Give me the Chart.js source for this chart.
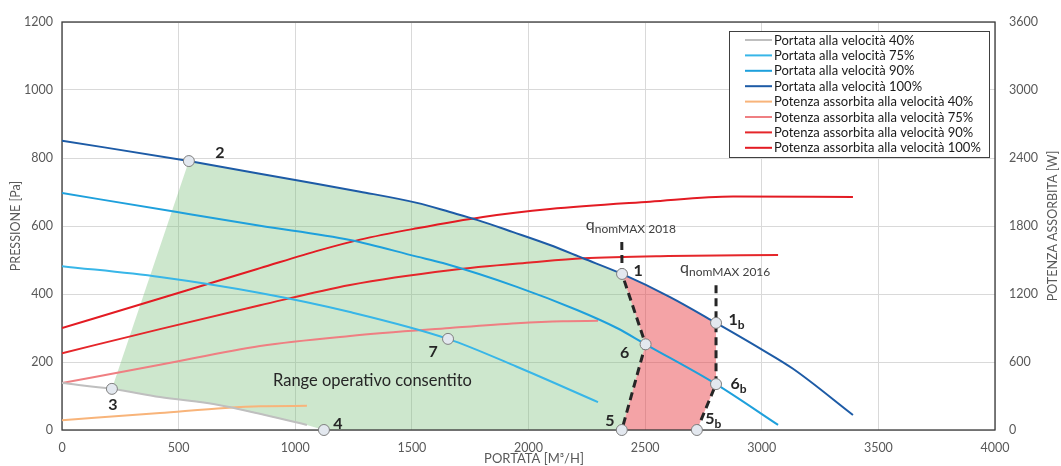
<!DOCTYPE html>
<html lang="it">
<head>
<meta charset="UTF-8">
<title>Curve caratteristiche ventilatore</title>
<script src="https://cdn.jsdelivr.net/npm/chart.js@4.4.3/dist/chart.umd.min.js"></script>
<style>
  body { margin: 0; background: #fff; }
  #wrap { width: 1061px; height: 466px; }
</style>
</head>
<body>
<div id="wrap"><canvas id="chart" width="1061" height="466"></canvas></div>
<script>
// Portata [m3/h] / pressione [Pa] alle varie velocità
const flow100X = [0, 544, 1000, 1278, 1522, 1663, 1779, 1934, 2092, 2234, 2401, 2607, 2804, 2992, 3134, 3391];
const flow100Y = [851, 791, 735, 701, 668, 641, 618, 582, 544, 505, 459, 391, 315, 240, 180, 44];
const flow90X = [0, 493, 849, 1235, 1522, 1633, 1950, 2208, 2379, 2502, 2804, 3070];
const flow90Y = [697, 641, 601, 559, 510, 491, 421, 353, 300, 252, 135, 15];
const flow75X = [0, 420, 849, 1235, 1655, 1950, 2298];
const flow75Y = [482, 450, 403, 347, 268, 186, 82];
const flow40X = [0, 214, 420, 677, 1050];
const flow40Y = [138, 121, 97, 73, 15];

// Potenza assorbita [W] (asse destro)
const pow100X = [0, 420, 635, 849, 1106, 1278, 1522, 1805, 2092, 2521, 2877, 3391];
const pow100Y = [900, 1160, 1295, 1428, 1587, 1680, 1780, 1880, 1950, 2015, 2060, 2055];
const pow90X = [0, 420, 849, 1235, 1663, 2019, 2234, 2600, 3070];
const pow90Y = [678, 890, 1100, 1280, 1410, 1480, 1515, 1536, 1545];
const pow75X = [0, 420, 849, 1235, 1663, 1950, 2148, 2298];
const pow75Y = [414, 575, 742, 830, 900, 942, 960, 963];
const pow40X = [0, 420, 700, 849, 1050];
const pow40Y = [87, 150, 195, 210, 213];

// Aree di funzionamento
const greenX = [214, 544, 1000, 1278, 1522, 1663, 1779, 1934, 2092, 2234, 2401, 2502, 2400, 1123, 1050, 677, 420];
const greenY = [121, 791, 735, 701, 668, 641, 618, 582, 544, 505, 459, 252, 0, 0, 15, 73, 97];
const redX = [2401, 2607, 2804, 2804, 2722, 2400, 2502];
const redY = [459, 391, 315, 135, 0, 0, 252];

// Limiti qnomMAX
const q2018X = [2400, 2401, 2502, 2400];
const q2018Y = [553, 459, 252, 0];
const q2016X = [2804, 2804, 2804, 2722];
const q2016Y = [426, 315, 135, 0];

// Punti caratteristici
const pointNames = ['1', '2', '3', '4', '5', '6', '7', '1b', '6b', '5b'];
const pointX = [2401, 544, 214, 1123, 2400, 2502, 1655, 2804, 2804, 2722];
const pointY = [459, 791, 121, 0, 0, 252, 268, 315, 135, 0];

const xTicks = [0, 500, 1000, 1500, 2000, 2500, 3000, 3500, 4000];
const yTicks = [0, 200, 400, 600, 800, 1000, 1200];
const y1Ticks = [0, 600, 1200, 1800, 2400, 3000, 3600];

const seriesLabels = [
  'Portata alla velocità 40%', 'Portata alla velocità 75%', 'Portata alla velocità 90%', 'Portata alla velocità 100%',
  'Potenza assorbita alla velocità 40%', 'Potenza assorbita alla velocità 75%', 'Potenza assorbita alla velocità 90%', 'Potenza assorbita alla velocità 100%'
];
const seriesColors = ['#BFBFBF', '#38B6E8', '#1EA0DC', '#1D5BA6', '#F8B47A', '#EF7F82', '#E5262A', '#E31B23'];

// offset etichette rispetto al punto (px)
const labelOffsets = {
  '1': [16, -3], '2': [31, -8], '3': [1, 16], '4': [14, -6], '5': [-12, -9],
  '6': [-21, 9], '7': [-15, 13], '1b': [17, -3], '6b': [19, 0], '5b': [13, -11]
};

const zip = (xs, ys) => xs.map((v, i) => ({ x: v, y: ys[i] }));

const curveData = [
  [flow40X, flow40Y, 'y'], [flow75X, flow75Y, 'y'], [flow90X, flow90Y, 'y'], [flow100X, flow100Y, 'y'],
  [pow40X, pow40Y, 'y1'], [pow75X, pow75Y, 'y1'], [pow90X, pow90Y, 'y1'], [pow100X, pow100Y, 'y1']
];

const datasets = [];
datasets.push({
  label: 'punti',
  data: zip(pointX, pointY),
  showLine: false,
  pointRadius: 5.5,
  pointBackgroundColor: '#E3E8EF',
  pointBorderColor: '#7F7F7F',
  pointBorderWidth: 1,
  clip: false,
  order: 0
});
[[q2018X, q2018Y], [q2016X, q2016Y]].forEach(([xs, ys]) => {
  datasets.push({
    label: 'qnomMAX',
    data: zip(xs, ys),
    borderColor: '#262626',
    borderWidth: 3,
    borderDash: [8, 5],
    pointRadius: 0,
    order: 1
  });
});
curveData.forEach(([xs, ys, axis], i) => {
  datasets.push({
    label: seriesLabels[i],
    data: zip(xs, ys),
    yAxisID: axis,
    borderColor: seriesColors[i],
    borderWidth: 2,
    pointRadius: 0,
    cubicInterpolationMode: 'monotone',
    order: 2
  });
});

function polygon(ctx, sx, sy, xs, ys, color) {
  ctx.beginPath();
  xs.forEach((v, i) => {
    const px = sx.getPixelForValue(v), py = sy.getPixelForValue(ys[i]);
    if (i === 0) ctx.moveTo(px, py); else ctx.lineTo(px, py);
  });
  ctx.closePath();
  ctx.fillStyle = color;
  ctx.fill();
}

const overlay = {
  id: 'overlay',
  beforeDatasetsDraw(chart) {
    const { ctx, chartArea: a, scales: { x, y } } = chart;
    ctx.save();
    ctx.beginPath();
    ctx.rect(a.left, a.top, a.width, a.height);
    ctx.clip();
    polygon(ctx, x, y, greenX, greenY, 'rgba(120,190,120,0.37)');
    polygon(ctx, x, y, redX, redY, 'rgba(232,60,66,0.47)');
    ctx.restore();
    // cornice
    ctx.save();
    ctx.strokeStyle = '#3A3A3A';
    ctx.lineWidth = 1.3;
    ctx.strokeRect(a.left, a.top, a.width, a.height);
    ctx.restore();
  },
  afterDatasetsDraw(chart) {
    const { ctx, scales: { x, y } } = chart;
    ctx.save();
    ctx.fillStyle = '#262626';
    ctx.textBaseline = 'middle';
    ctx.textAlign = 'center';
    pointNames.forEach((name, i) => {
      const px = x.getPixelForValue(pointX[i]) + labelOffsets[name][0];
      const py = y.getPixelForValue(pointY[i]) + labelOffsets[name][1];
      ctx.font = 'bold 16px Lato';
      ctx.fillText(name[0], px, py);
      if (name.length > 1) {
        ctx.font = 'bold 12px Lato';
        ctx.fillText(name.slice(1), px + 8, py + 5);
      }
    });

    // qnomMAX
    ctx.fillStyle = '#404040';
    ctx.textAlign = 'left';
    ctx.textBaseline = 'alphabetic';
    [[2018, q2018X[0], q2018Y[0]], [2016, q2016X[0], q2016Y[0]]].forEach(([yr, qx, qy]) => {
      const px = x.getPixelForValue(qx) - 36;
      const py = y.getPixelForValue(qy) - 12;
      ctx.font = '16px Lato';
      ctx.fillText('q', px, py);
      ctx.font = '12px Lato';
      ctx.fillText('nomMAX ' + yr, px + 9, py + 3);
    });

    ctx.font = '16.5px Lato';
    ctx.fillStyle = '#262626';
    ctx.textBaseline = 'middle';
    ctx.fillText('Range operativo consentito', 273, 381);

    // legenda
    const lx = 729, ly = 31, lw = 260, lh = 126;
    ctx.fillStyle = '#fff';
    ctx.fillRect(lx, ly, lw, lh);
    ctx.strokeStyle = '#404040';
    ctx.lineWidth = 1;
    ctx.strokeRect(lx + 0.5, ly + 0.5, lw, lh);
    ctx.font = '13px Lato';
    seriesLabels.forEach((lab, i) => {
      const ry = ly + 9 + i * 15.4;
      ctx.strokeStyle = seriesColors[i];
      ctx.lineWidth = 2;
      ctx.beginPath();
      ctx.moveTo(lx + 16, ry);
      ctx.lineTo(lx + 43, ry);
      ctx.stroke();
      ctx.fillStyle = '#1A1A1A';
      ctx.fillText(lab, lx + 45, ry + 0.5);
    });
    ctx.restore();
  },
  afterDraw(chart) {
    const { ctx, chartArea: a } = chart;
    const cy = (a.top + a.bottom) / 2;
    ctx.save();
    ctx.fillStyle = '#595959';
    ctx.font = '13px Lato';
    ctx.textAlign = 'center';
    ctx.textBaseline = 'middle';
    ctx.fillText('PORTATA [M³/H]', 534, 459);
    ctx.font = '12.5px Lato';
    ctx.translate(16, cy);
    ctx.rotate(-Math.PI / 2);
    ctx.fillText('PRESSIONE [Pa]', 0, 0);
    ctx.restore();
    ctx.save();
    ctx.fillStyle = '#595959';
    ctx.font = '12.5px Lato';
    ctx.textAlign = 'center';
    ctx.textBaseline = 'middle';
    ctx.translate(1053, cy);
    ctx.rotate(-Math.PI / 2);
    ctx.fillText('POTENZA ASSORBITA [W]', 0, 0);
    ctx.restore();
  }
};

Chart.defaults.font.family = 'Lato';
Chart.defaults.font.size = 12.5;
Chart.defaults.color = '#595959';

const plainTick = v => String(v);

new Chart(document.getElementById('chart'), {
  type: 'line',
  data: { datasets: datasets },
  options: {
    responsive: false,
    animation: false,
    devicePixelRatio: 1,
    layout: { padding: { top: 22 } },
    plugins: { legend: { display: false }, tooltip: { enabled: false } },
    scales: {
      x: {
        type: 'linear',
        min: xTicks[0], max: xTicks[xTicks.length - 1],
        afterBuildTicks: s => { s.ticks = xTicks.map(v => ({ value: v })); },
        afterFit: s => { s.height = 36; },
        grid: { color: '#D9D9D9', drawTicks: false },
        border: { display: false },
        ticks: { padding: 10, maxRotation: 0, callback: plainTick }
      },
      y: {
        position: 'left',
        min: yTicks[0], max: yTicks[yTicks.length - 1],
        afterBuildTicks: s => { s.ticks = yTicks.map(v => ({ value: v })); },
        afterFit: s => { s.width = 62; },
        grid: { color: '#D9D9D9', drawTicks: false },
        border: { display: false },
        ticks: { padding: 9, callback: plainTick }
      },
      y1: {
        position: 'right',
        min: y1Ticks[0], max: y1Ticks[y1Ticks.length - 1],
        afterBuildTicks: s => { s.ticks = y1Ticks.map(v => ({ value: v })); },
        afterFit: s => { s.width = 66; },
        grid: { drawOnChartArea: false, drawTicks: false },
        border: { display: false },
        ticks: { padding: 14, callback: plainTick }
      }
    }
  },
  plugins: [overlay]
});
</script>
</body>
</html>
